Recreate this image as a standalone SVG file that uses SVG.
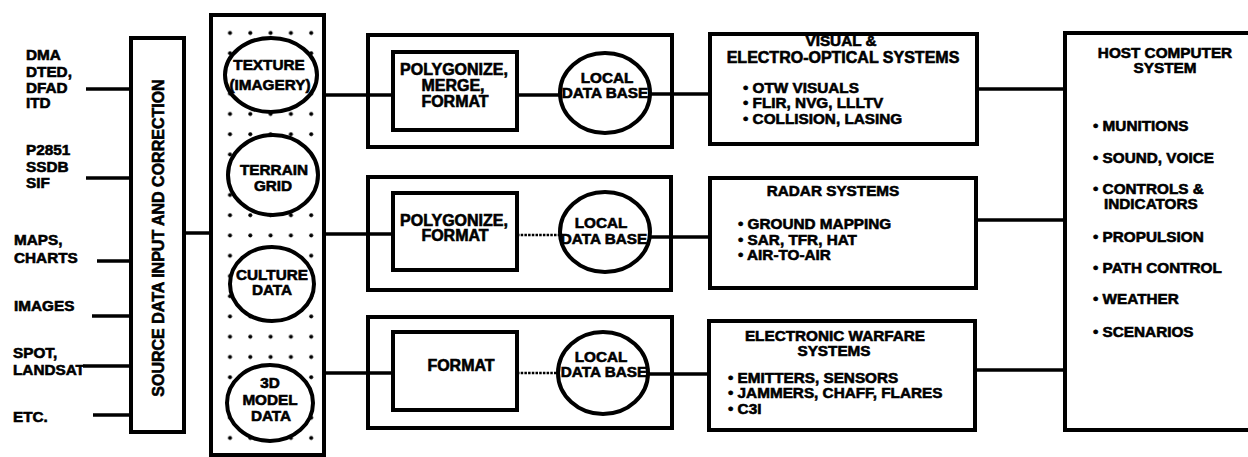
<svg xmlns="http://www.w3.org/2000/svg" width="1248" height="457" viewBox="0 0 1248 457">
<style>
.t{font-family:"Liberation Sans",Arial,Helvetica,sans-serif;font-weight:700;fill:#000;stroke:#000;stroke-width:0.6}
.c{text-anchor:middle}
.f16{font-size:16px}
.f15{font-size:15.3px}
.box{fill:#fff;stroke:#000;stroke-width:4}
.frame{fill:none;stroke:#000;stroke-width:4}
.ell{fill:#fff;stroke:#000;stroke-width:4}
.ln{fill:none;stroke:#000;stroke-width:3.5}
.dl{fill:none;stroke:#000;stroke-width:2.5;stroke-dasharray:2.5 1.2}
</style>
<defs>
<pattern id="dotpat" patternUnits="userSpaceOnUse" x="220" y="23" width="20.3" height="20.25">
<circle cx="10" cy="10" r="2" fill="#000"/>
</pattern>
</defs>
<rect x="0" y="0" width="1248" height="457" fill="#fff"/>

<g id="connectors">
<line class="ln" x1="86" y1="89" x2="131" y2="89"/>
<line class="ln" x1="86" y1="178" x2="131" y2="178"/>
<line class="ln" x1="97" y1="261" x2="131" y2="261"/>
<line class="ln" x1="92" y1="316" x2="131" y2="316"/>
<line class="ln" x1="83" y1="366" x2="131" y2="366"/>
<line class="ln" x1="93" y1="415" x2="131" y2="415"/>
<line class="ln" x1="184" y1="233" x2="211" y2="233"/>
<line class="ln" x1="324" y1="95" x2="393" y2="95"/>
<line class="ln" x1="324" y1="234" x2="393" y2="234"/>
<line class="ln" x1="324" y1="373" x2="393" y2="373"/>
<line class="ln" x1="517" y1="95" x2="561" y2="95"/>
<line class="dl" x1="517" y1="235" x2="561" y2="235"/>
<line class="dl" x1="517" y1="373" x2="559" y2="373"/>
<line class="ln" x1="649" y1="94" x2="710" y2="94"/>
<line class="ln" x1="649" y1="237" x2="710" y2="237"/>
<line class="ln" x1="647" y1="374" x2="709" y2="374"/>
<line class="ln" x1="977" y1="89" x2="1065" y2="89"/>
<line class="ln" x1="976" y1="220" x2="1065" y2="220"/>
<line class="ln" x1="975" y1="370" x2="1065" y2="370"/>
<circle cx="1065" cy="220" r="2.5" fill="#000"/>
<circle cx="1065" cy="370" r="2.5" fill="#000"/>
</g>

<g id="sources">
<text class="t f15" x="26" y="60">DMA</text>
<text class="t f15" x="26" y="77">DTED,</text>
<text class="t f15" x="26" y="93">DFAD</text>
<text class="t f15" x="26" y="108">ITD</text>
<text class="t f15" x="26" y="155">P2851</text>
<text class="t f15" x="26" y="172">SSDB</text>
<text class="t f15" x="26" y="188">SIF</text>
<text class="t f15" x="14" y="245">MAPS,</text>
<text class="t f15" x="14" y="263">CHARTS</text>
<text class="t f15" x="14" y="311">IMAGES</text>
<text class="t f15" x="13" y="358">SPOT,</text>
<text class="t f15" x="13" y="375">LANDSAT</text>
<text class="t f15" x="13" y="422">ETC.</text>
</g>

<g id="source-input">
<rect class="box" x="131" y="38" width="53" height="394"/>
<text class="t c f16" transform="translate(164,238) rotate(-90)">SOURCE DATA INPUT AND CORRECTION</text>
</g>

<g id="data-column">
<rect class="box" x="211" y="15" width="113" height="440"/>
<rect x="214" y="18" width="107" height="434" fill="url(#dotpat)"/>
</g>

<g id="texture">
<ellipse class="ell" cx="271" cy="75" rx="46" ry="37"/>
<text class="t c f15" x="269" y="70">TEXTURE</text>
<text class="t c f15" x="270" y="90">(IMAGERY)</text>
</g>
<g id="terrain">
<ellipse class="ell" cx="273" cy="175" rx="45" ry="40"/>
<text class="t c f15" x="274" y="175">TERRAIN</text>
<text class="t c f15" x="273" y="191">GRID</text>
</g>
<g id="culture">
<ellipse class="ell" cx="272" cy="284" rx="42" ry="37"/>
<text class="t c f15" x="272" y="280">CULTURE</text>
<text class="t c f15" x="272" y="295">DATA</text>
</g>
<g id="model">
<ellipse class="ell" cx="270" cy="403" rx="43" ry="38"/>
<text class="t c f15" x="270" y="388">3D</text>
<text class="t c f15" x="270" y="405">MODEL</text>
<text class="t c f15" x="271" y="421">DATA</text>
</g>

<g id="visual-processing">
<rect class="frame" x="368" y="35" width="304" height="112"/>
<rect class="box" x="393" y="52" width="124" height="78"/>
<text class="t c f16" x="454" y="75">POLYGONIZE,</text>
<text class="t c f16" x="453" y="91">MERGE,</text>
<text class="t c f16" x="455" y="107">FORMAT</text>
<ellipse class="ell" cx="605" cy="93" rx="45" ry="40"/>
<text class="t c f15" x="607" y="83">LOCAL</text>
<text class="t c f15" x="605" y="98">DATA BASE</text>
</g>

<g id="radar-processing">
<rect class="frame" x="368" y="177" width="303" height="113"/>
<rect class="box" x="393" y="193" width="124" height="77"/>
<text class="t c f16" x="454" y="226">POLYGONIZE,</text>
<text class="t c f16" x="455" y="241">FORMAT</text>
<ellipse class="ell" cx="605" cy="232" rx="45" ry="40"/>
<text class="t c f15" x="601" y="228">LOCAL</text>
<text class="t c f15" x="604" y="244">DATA BASE</text>
</g>

<g id="ew-processing">
<rect class="frame" x="368" y="317" width="304" height="111"/>
<rect class="box" x="393" y="332" width="124" height="78"/>
<text class="t c f16" x="461" y="371">FORMAT</text>
<ellipse class="ell" cx="603" cy="373" rx="45" ry="41"/>
<text class="t c f15" x="601" y="362">LOCAL</text>
<text class="t c f15" x="604" y="377">DATA BASE</text>
</g>

<g id="visual-systems">
<rect class="box" x="710" y="34" width="267" height="110"/>
<text class="t c f15" x="841" y="46">VISUAL &amp;</text>
<text class="t c f16" x="843" y="63">ELECTRO-OPTICAL SYSTEMS</text>
<text class="t f15" x="743" y="93">• OTW VISUALS</text>
<text class="t f15" x="743" y="108">• FLIR, NVG, LLLTV</text>
<text class="t f15" x="743" y="124">• COLLISION, LASING</text>
</g>

<g id="radar-systems">
<rect class="box" x="710" y="178" width="266" height="110"/>
<text class="t c f15" x="833" y="196">RADAR SYSTEMS</text>
<text class="t f15" x="738" y="229">• GROUND MAPPING</text>
<text class="t f15" x="738" y="245">• SAR, TFR, HAT</text>
<text class="t f15" x="738" y="260">• AIR-TO-AIR</text>
</g>

<g id="ew-systems">
<rect class="box" x="709" y="321" width="266" height="109"/>
<text class="t c f15" x="835" y="341">ELECTRONIC WARFARE</text>
<text class="t c f15" x="834" y="356">SYSTEMS</text>
<text class="t f15" x="728" y="383">• EMITTERS, SENSORS</text>
<text class="t f15" x="728" y="398">• JAMMERS, CHAFF, FLARES</text>
<text class="t f15" x="728" y="414">• C3I</text>
</g>

<g id="host">
<rect class="box" x="1065" y="33" width="200" height="397"/>
<text class="t c f15" x="1165" y="58">HOST COMPUTER</text>
<text class="t c f15" x="1165" y="73">SYSTEM</text>
<text class="t f15" x="1093" y="131">• MUNITIONS</text>
<text class="t f15" x="1093" y="163">• SOUND, VOICE</text>
<text class="t f15" x="1093" y="194">• CONTROLS &amp;</text>
<text class="t f15" x="1104" y="209">INDICATORS</text>
<text class="t f15" x="1093" y="242">• PROPULSION</text>
<text class="t f15" x="1093" y="273">• PATH CONTROL</text>
<text class="t f15" x="1093" y="304">• WEATHER</text>
<text class="t f15" x="1093" y="337">• SCENARIOS</text>
</g>
</svg>
